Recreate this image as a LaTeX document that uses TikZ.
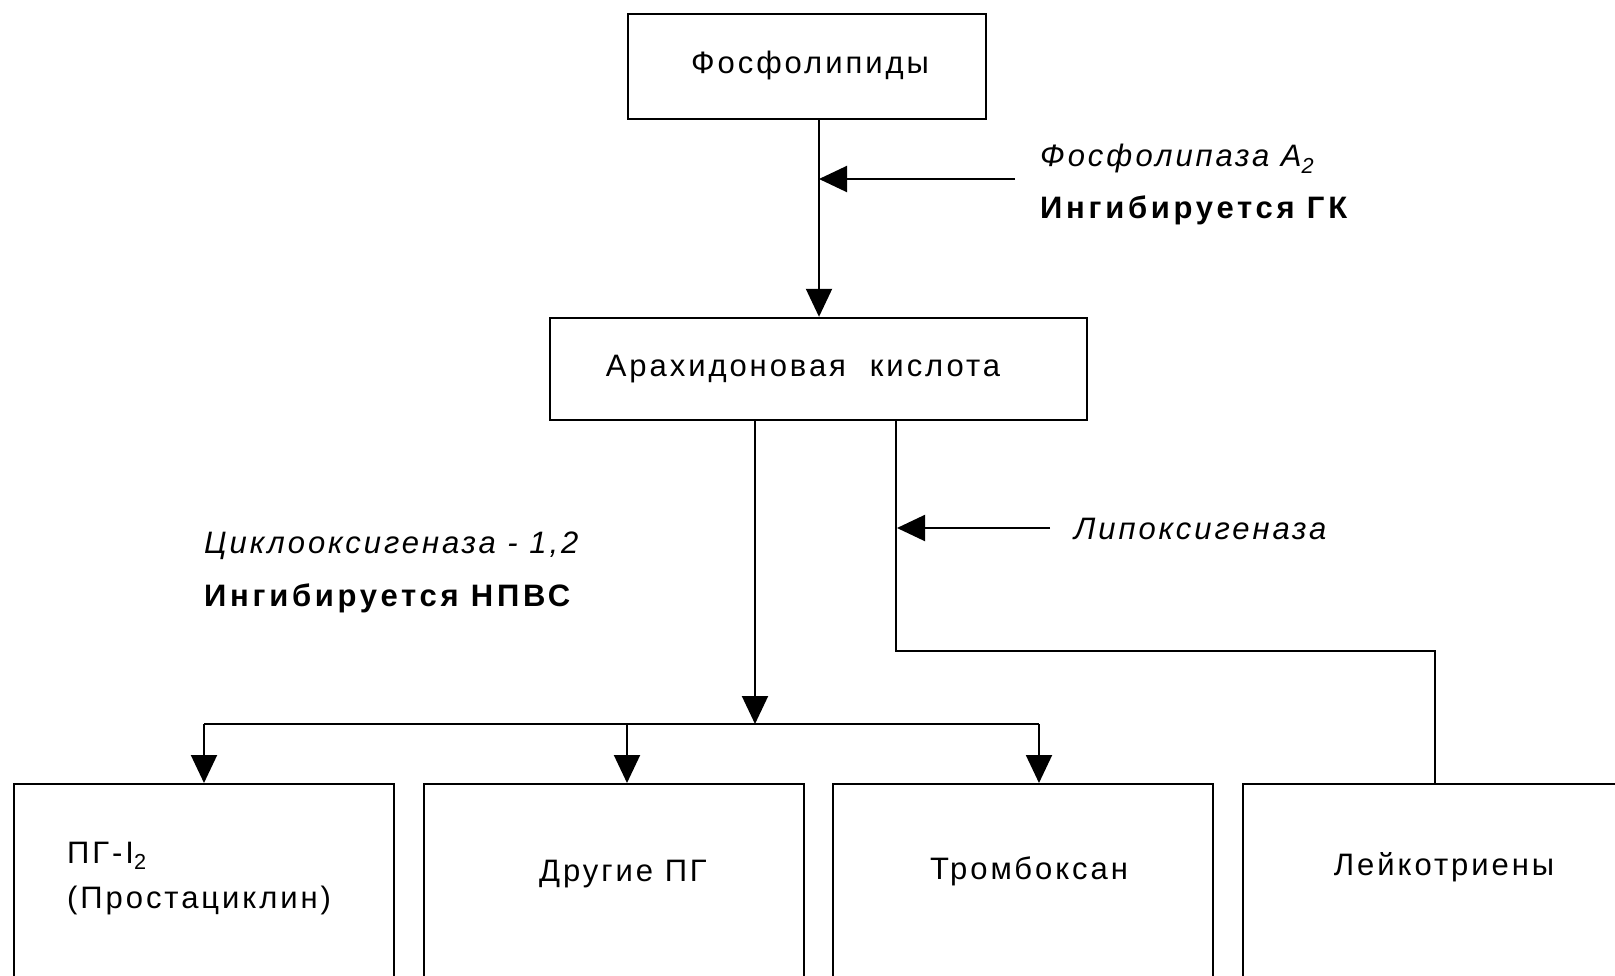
\documentclass[tikz,border=0pt]{standalone}
\usepackage{fontspec}
\setmainfont{Liberation Sans}[LetterSpace=9.5]
\newfontfamily\bfam{Liberation Sans}[LetterSpace=12,BoldFont={* Bold}]
\usetikzlibrary{arrows.meta}
\begin{document}
\begin{tikzpicture}[x=1pt,y=-1pt,
  box/.style={draw,line width=2.4pt,rectangle,inner sep=0pt},
  conn/.style={line width=2pt},
  arr/.style={line width=2pt,-{Triangle[length=28pt,width=26pt]}},
  lbl/.style={inner sep=0pt,font=\fontsize{31}{35}\selectfont},
  lbll/.style={lbl,anchor=west},
  it/.style={lbll,font=\fontsize{31}{35}\selectfont\itshape},
  bf/.style={lbll,font=\fontsize{31}{35}\selectfont\bfam\bfseries}]
\clip (0,0) rectangle (1615,975);
\fill[white] (0,0) rectangle (1615,975);
% boxes
\node[box,minimum width=358pt,minimum height=105pt] (fos) at (807,66.5) {};
\node[box,minimum width=537pt,minimum height=102pt] (ara) at (818.5,369) {};
\node[box,minimum width=380pt,minimum height=230pt,anchor=north west] (b1) at (13,783) {};
\node[box,minimum width=380pt,minimum height=230pt,anchor=north west] (b2) at (423,783) {};
\node[box,minimum width=380pt,minimum height=230pt,anchor=north west] (b3) at (832,783) {};
\node[box,minimum width=380pt,minimum height=230pt,anchor=north west] (b4) at (1242,783) {};
% texts
\node[lbl] (tfos) at (810,65) {Фосфолипиды};
\node[lbl] (tara) at (803,369) {Арахидоновая\hspace{0.4em} кислота};
\node[it] (tpla) at (1040,159) {Фосфолипаза A\textsubscript{2}};
\node[bf] (tgk) at (1040,210) {Ингибируется ГК};
\node[it] (tlip) at (1074,529) {Липоксигеназа};
\node[it] (tcox) at (204,546) {Циклооксигеназа - 1,2};
\node[bf] (tnp) at (204,598) {Ингибируется НПВС};
\node[lbll] (tpg1) at (67,856) {ПГ-I\textsubscript{2}};
\node[lbll] (tpg2) at (67,900) {(Простациклин)};
\node[lbl] (tdr) at (623,874) {Другие ПГ};
\node[lbl] (ttr) at (1029,871) {Тромбоксан};
\node[lbl] (tle) at (1444,867) {Лейкотриены};
% coordinates
\coordinate (s1) at (1015,179);
\coordinate (s2) at (1050,528);
\coordinate (hL) at (755,724);
\coordinate (r1) at (896,651);
\coordinate (r2) at (1435,651);
% connectors
\draw[arr] (fos.south -| 819,0) -- (ara.north -| 819,0);
\draw[arr] (s1) -- (819,179);
\draw[arr] (ara.south -| hL) -- (hL);
\draw[conn] (204,724) -- (1039,724);
\draw[arr] (204,724) -- (b1.north -| 204,0);
\draw[arr] (627,724) -- (b2.north -| 627,0);
\draw[arr] (1039,724) -- (b3.north -| 1039,0);
\draw[conn] (ara.south -| r1) -- (r1) -- (r2) -- (b4.north -| r2);
\draw[arr] (s2) -- (897,528);
\end{tikzpicture}
\end{document}
